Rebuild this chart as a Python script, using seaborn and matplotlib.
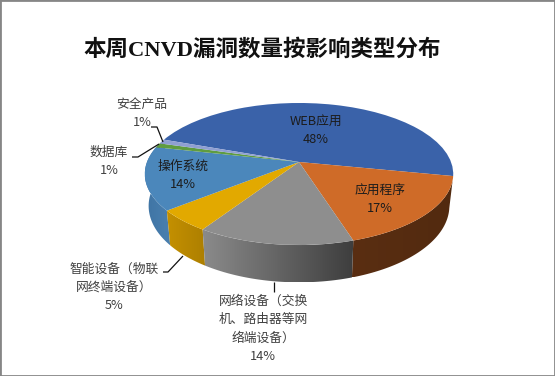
import numpy as np
import matplotlib
matplotlib.use("Agg")
import matplotlib.pyplot as plt
import seaborn as sns
from matplotlib.transforms import Transform
from matplotlib.patches import Rectangle, Polygon
from matplotlib.colors import to_rgb

# ---- data ----
categories = ["WEB应用", "应用程序", "网络设备（交换\n机、路由器等网\n络端设备）", "智能设备（物联\n网终端设备）", "操作系统", "数据库", "安全产品"]
values = [47.6, 17.0, 14.0, 5.0, 14.4, 1.0, 1.0]
title = "本周CNVD漏洞数量按影响类型分布"

# ---- style ----
sns.set_theme(style="white")
CJK = ["Noto Sans CJK SC", "DejaVu Sans"]
plt.rcParams["font.family"] = CJK
top_colors = sns.color_palette(["#3a62a9", "#cf6b28", "#8e8e8e", "#e2a900", "#4b87bb", "#5f9c40", "#8f9fd2"])
wall_left = ["#2c4a80", "#5a2e12", "#8a8a8a", "#c49000", "#3f74a4", "#4c7d33", "#7280a8"]
wall_right = ["#2c4a80", "#522a0f", "#3e3e3e", "#ad7f00", "#4a80b0", "#4c7d33", "#7280a8"]

CX, CY, RX, RY, K, DEPTH, SHRINK = 299.0, 162.0, 152.0, 69.0, 0.169, 31.0, 0.975


class Perspective(Transform):
    """Tilted-disc projection of the unit pie to figure pixels."""
    input_dims = output_dims = 2
    is_separable = False
    has_inverse = False

    def transform_non_affine(self, values):
        v = np.asarray(values, dtype=float)
        w = 1 + K * v[:, 1]
        return np.column_stack([CX + RX * v[:, 0] / w, CY - RY * v[:, 1] / w])


persp = Perspective()


def wall_outline(a0, a1):
    p = np.radians(np.linspace(a0, a1, 60))
    pts = np.column_stack([np.cos(p), np.sin(p)])
    top = persp.transform_non_affine(pts)
    w = 1 + K * pts[:, 1]
    bot = np.column_stack([CX + (top[:, 0] - CX) * SHRINK, top[:, 1] + DEPTH / w])
    return np.vstack([top, bot[::-1]])


fig = plt.figure(figsize=(5.55, 3.76), dpi=100, facecolor="white")
ax = fig.add_axes([0, 0, 1, 1])
wedges, _ = ax.pie(values, startangle=160, counterclock=False, colors=top_colors, wedgeprops={"linewidth": 0})

# side walls (gradient fills clipped to outlines built from the wedge angles)
slices = list(range(1, len(wedges)))
slices.sort(key=lambda i: -np.sin(np.radians((wedges[i].theta1 + wedges[i].theta2) / 2)))
for i in slices:
    wd = wedges[i]
    outline = wall_outline(wd.theta1, wd.theta2)
    L, R = np.array(to_rgb(wall_left[i])), np.array(to_rgb(wall_right[i]))
    t = np.linspace(0, 1, 64)[:, None]
    grad = (L * (1 - t) + R * t)[None, :, :]
    xa, xb = outline[:, 0].min(), outline[:, 0].max()
    ya, yb = outline[:, 1].min(), outline[:, 1].max()
    im = ax.imshow(grad, extent=(xa, xb, yb, ya), aspect="auto", zorder=1 + 0.01 * slices.index(i),
                   interpolation="bilinear")
    poly = Polygon(outline, closed=True, transform=ax.transData, facecolor="none", edgecolor="none")
    ax.add_patch(poly)
    im.set_clip_path(poly)

ax.set_aspect("auto")
ax.set_xlim(0, 555)
ax.set_ylim(376, 0)
ax.axis("off")

for wd in wedges:
    wd.set_transform(persp + ax.transData)
    wd.set_zorder(2)

# labels
lab_dark = "#1c1c1c"
lab_grey = "#404040"
fs = 9.2
pct = [f"{round(v)}%" for v in values]
spec = [  # x, y of first line, colour
    (316, 121, lab_dark), (380, 190, lab_dark), (263, 301, lab_grey),
    (114, 269, lab_grey), (183, 166, lab_dark), (109, 152, lab_grey), (142, 104, lab_grey),
]
for cat, p, (x, y, c) in zip(categories, pct, spec):
    for k, line in enumerate(cat.split("\n") + [p]):
        ax.text(x, y + k * 18.4, line, ha="center", va="center", fontsize=fs, color=c, zorder=5)

# leader lines
for xs, ys in [((151, 157, 163), (127, 127, 142)),
               ((132, 138, 159), (157, 157, 144)),
               ((163, 168, 183), (272, 272, 256)),
               ((274, 274), (282, 292))]:
    ax.plot(xs, ys, color="#111111", lw=0.9, zorder=4, solid_capstyle="butt")

# title
ax.text(262.5, 50, title, ha="center", va="center", fontsize=16.2, fontweight="bold", color="#111111",
        family=["Liberation Serif", "Noto Sans CJK SC"], zorder=5)

# chart frame
fig.add_artist(Rectangle((0, 0), 1, 1, transform=fig.transFigure, fill=False, edgecolor="#868686", linewidth=2.0))

fig.savefig("out.png", dpi=100)
